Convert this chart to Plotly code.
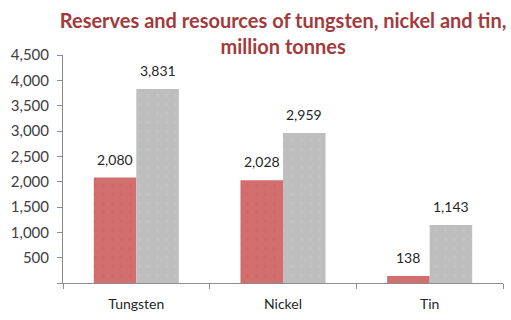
import plotly.graph_objects as go

categories = ["Tungsten", "Nickel", "Tin"]
reserves = [2080, 2028, 138]
resources = [3831, 2959, 1143]
ytick_vals = [0, 500, 1000, 1500, 2000, 2500, 3000, 3500, 4000, 4500]
ytick_text = ["", "500", "1,000", "1,500", "2,000", "2,500", "3,000", "3,500", "4,000", "4,500"]

FONT = "Lato, Calibri, Carlito, sans-serif"

fig = go.Figure()
fig.add_trace(go.Bar(
    x=categories, y=reserves, name="Reserves",
    marker=dict(color="#d26e6e", line=dict(width=0),
                pattern=dict(shape=".", fgcolor="#c86262", size=9, solidity=0.08)),
))
fig.add_trace(go.Bar(
    x=categories, y=resources, name="Resources",
    marker=dict(color="#bebebe", line=dict(width=0),
                pattern=dict(shape=".", fgcolor="#cacaca", size=9, solidity=0.08)),
))

annotations = []
for vals, shift in ((reserves, -21.3), (resources, 21.3)):
    for c, v in zip(categories, vals):
        annotations.append(dict(
            x=c, y=v, xref="x", yref="y", text=f"{v:,}", showarrow=False,
            xshift=shift, yshift=8, yanchor="bottom",
            font=dict(family=FONT, size=14, color="#262626"),
        ))

fig.update_layout(
    width=511, height=320,
    margin=dict(l=63, r=8, t=55, b=32),
    paper_bgcolor="white", plot_bgcolor="white",
    showlegend=False,
    barmode="group", bargap=0.42, bargroupgap=0,
    title=dict(
        text="Reserves and resources of tungsten, nickel and tin,<br>million tonnes",
        x=0.554, xanchor="center", yref="container", y=0.914, yanchor="middle",
        font=dict(family=FONT, size=20, color="#a33a3c", weight="bold"),
    ),
    annotations=annotations,
    font=dict(family=FONT, size=14, color="#404040"),
)
fig.update_yaxes(
    range=[0, 4500], tickvals=ytick_vals, ticktext=ytick_text,
    showgrid=False, zeroline=False, showline=True, linecolor="#8c8c8c", linewidth=1,
    ticks="outside", ticklen=5, tickcolor="#8c8c8c", ticklabelstandoff=5,
    tickfont=dict(family=FONT, size=15, color="#404040"),
)
fig.update_xaxes(
    showgrid=False, showline=True, linecolor="#8c8c8c", linewidth=1,
    ticks="outside", ticklen=5, tickcolor="#8c8c8c", tickson="boundaries",
    ticklabelstandoff=8,
    tickfont=dict(family=FONT, size=14, color="#262626"),
)

fig.write_html("out.html")
